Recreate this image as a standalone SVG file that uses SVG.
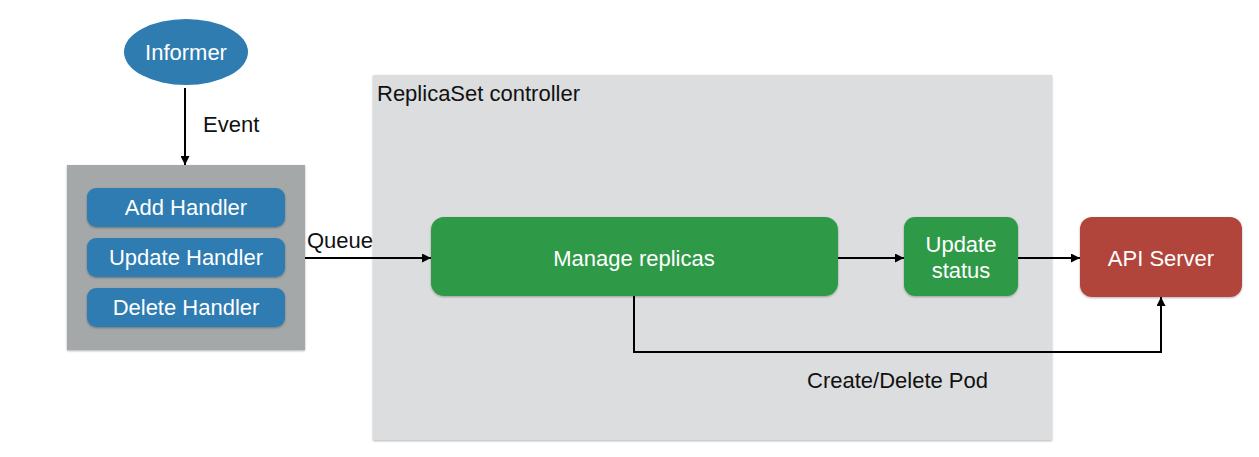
<svg xmlns="http://www.w3.org/2000/svg" width="1259" height="457" viewBox="0 0 1259 457">
<defs>
<style>
text{font-family:"Liberation Sans",Arial,sans-serif;font-size:22px}
.w{fill:#ffffff}
.k{fill:#111111}
.blue{fill:#2f7cb1}
.green{fill:#2f9a47}
.red{fill:#b2453a}
.conn{stroke:#000;stroke-width:2;fill:none}
</style>
<marker id="ah" viewBox="0 0 10 10" refX="10" refY="5" markerWidth="10" markerHeight="9" markerUnits="userSpaceOnUse" orient="auto"><path d="M0,0L10,5L0,10z" fill="#000"/></marker>
<filter id="sh" x="-10%" y="-10%" width="120%" height="130%"><feDropShadow dx="0" dy="1" stdDeviation="1.2" flood-color="#000" flood-opacity="0.3"/></filter>
</defs>
<rect width="1259" height="457" fill="#fff"/>
<g id="controller">
<rect x="373" y="75" width="679" height="365" fill="#dcddde" filter="url(#sh)"/>
<text x="377" y="101" class="k">ReplicaSet controller</text>
</g>
<g id="informer">
<ellipse cx="186" cy="52" rx="62" ry="33" class="blue"/>
<text x="186" y="60" class="w" text-anchor="middle">Informer</text>
</g>
<g id="handlers">
<rect x="67" y="165" width="238" height="185" fill="#a5a8a8" filter="url(#sh)"/>
</g>
<g id="add-handler">
<rect x="87" y="188" width="198" height="39" rx="9" class="blue" filter="url(#sh)"/>
<text x="186" y="215" class="w" text-anchor="middle">Add Handler</text>
</g>
<g id="update-handler">
<rect x="87" y="238" width="198" height="39" rx="9" class="blue" filter="url(#sh)"/>
<text x="186" y="265" class="w" text-anchor="middle">Update Handler</text>
</g>
<g id="delete-handler">
<rect x="87" y="288" width="198" height="39" rx="9" class="blue" filter="url(#sh)"/>
<text x="186" y="315" class="w" text-anchor="middle">Delete Handler</text>
</g>
<g id="manage-replicas">
<rect x="431" y="217" width="407" height="79" rx="13" class="green" filter="url(#sh)"/>
<text x="634" y="266" class="w" text-anchor="middle">Manage replicas</text>
</g>
<g id="update-status">
<rect x="904" y="217" width="114" height="79" rx="11" class="green" filter="url(#sh)"/>
<text x="961" y="252" class="w" text-anchor="middle">Update</text>
<text x="961" y="278" class="w" text-anchor="middle">status</text>
</g>
<g id="api-server">
<rect x="1080" y="217" width="162" height="80" rx="12" class="red" filter="url(#sh)"/>
<text x="1161" y="266" class="w" text-anchor="middle">API Server</text>
</g>
<g id="connectors">
<line x1="185" y1="88" x2="185" y2="165" class="conn" marker-end="url(#ah)"/>
<text x="203" y="132" class="k">Event</text>
<line x1="305" y1="258" x2="431" y2="258" class="conn" marker-end="url(#ah)"/>
<text x="307" y="248" class="k">Queue</text>
<line x1="838" y1="258" x2="904" y2="258" class="conn" marker-end="url(#ah)"/>
<line x1="1018" y1="258" x2="1080" y2="258" class="conn" marker-end="url(#ah)"/>
<path d="M634,296V352H1161V297" class="conn" marker-end="url(#ah)"/>
<text x="807" y="388" class="k">Create/Delete Pod</text>
</g>
</svg>
